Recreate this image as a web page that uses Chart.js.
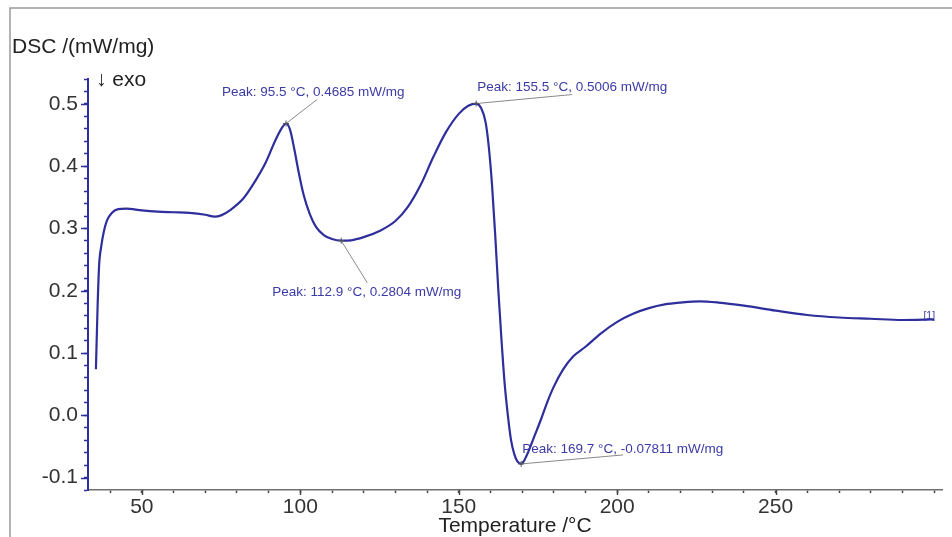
<!DOCTYPE html>
<html>
<head>
<meta charset="utf-8">
<script src="https://cdn.jsdelivr.net/npm/chart.js@4.4.1/dist/chart.umd.min.js"></script>
<style>
  html, body { margin: 0; padding: 0; background: #ffffff; }
  #wrap { width: 952px; height: 537px; position: relative; }
</style>
</head>
<body>
<div id="wrap"><canvas id="dsc" width="952" height="537"></canvas></div>
<script>
// DSC trace: temperature (°C) and heat flow (mW/mg)
const temperature = [
  35.5, 36.0, 36.5, 37.2, 38.0, 39.0, 40.5, 42.5, 45.0, 50, 55, 60, 65, 70, 73, 75, 78, 82, 86, 89,
  92, 94, 95.5, 96.8, 98, 99.5, 101, 103, 105, 107.5, 110, 112.9, 116, 120, 125, 130, 134, 138, 142, 146,
  150, 153, 155.5, 157, 158.5, 159.5, 160.5, 161.5, 162.5, 163.5, 164.5, 165.5, 166.5, 167.5, 168.5, 169.7, 170.5, 172, 174, 176,
  178, 180, 183, 186, 190, 195, 200, 205, 210, 215, 220, 226, 232, 240, 250, 260, 270, 280, 290, 300
];
const dscSignal = [
  0.074, 0.17, 0.24, 0.272, 0.295, 0.313, 0.325, 0.331, 0.332, 0.329, 0.327, 0.326, 0.325, 0.322, 0.319, 0.321, 0.33, 0.348, 0.378, 0.405,
  0.44, 0.46, 0.4685, 0.458, 0.43, 0.39, 0.355, 0.323, 0.302, 0.289, 0.283, 0.2804, 0.281, 0.286, 0.296, 0.312, 0.335, 0.37, 0.415, 0.455,
  0.484, 0.497, 0.5006, 0.494, 0.47, 0.43, 0.37, 0.29, 0.2, 0.12, 0.05, 0.0, -0.04, -0.062, -0.074, -0.07811, -0.074, -0.058, -0.032, -0.006,
  0.022, 0.046, 0.074, 0.094, 0.11, 0.132, 0.15, 0.163, 0.172, 0.178, 0.181, 0.183, 0.181, 0.176, 0.168, 0.161, 0.157, 0.155, 0.153, 0.154
];

// Evaluated peaks
const peakTemps  = [95.5, 155.5, 112.9, 169.7];
const peakValues = [0.4685, 0.5006, 0.2804, -0.07811];

// Axis ticks
const xTickValues = [50, 100, 150, 200, 250];
const yTickValues = [-0.1, 0.0, 0.1, 0.2, 0.3, 0.4, 0.5];
const xMinorStep = 10;
const yMinorStep = 0.02;

const FONT = "'Liberation Sans', Arial, Helvetica, sans-serif";
const CURVE = '#2e2e9c';
const NOTE = '#3b3ba6';

function stepRange(from, to, step) {
  const out = [];
  const n = Math.round((to - from) / step);
  for (let i = 0; i <= n; i++) out.push(Math.round((from + i * step) * 1e6) / 1e6);
  return out;
}
function isMajor(v, list) { return list.some(t => Math.abs(t - v) < 1e-6); }

// Label placement for each peak (offsets in px from the peak point)
const peakLayout = [
  { tx: -64, ty: -31, lx: 31,  ly: -24 },
  { tx: 1,   ty: -16, lx: 96,  ly: -9 },
  { tx: -69, ty: 52,  lx: 26,  ly: 42 },
  { tx: 1,   ty: -15, lx: 102, ly: -9 }
];

const decor = {
  id: 'dscDecor',
  beforeDraw(chart) {
    const ctx = chart.ctx;
    ctx.save();
    ctx.strokeStyle = '#9a9a9a';
    ctx.lineWidth = 1.5;
    ctx.beginPath();
    ctx.moveTo(10, 537);
    ctx.lineTo(10, 8);
    ctx.lineTo(952, 8);
    ctx.stroke();
    ctx.restore();
  },
  afterDraw(chart) {
    const ctx = chart.ctx;
    const xs = chart.scales.x, ys = chart.scales.y;
    ctx.save();

    // longer marks for the labelled ticks
    ctx.lineWidth = 1.5;
    ctx.strokeStyle = CURVE;
    yTickValues.forEach(v => {
      const py = Math.round(ys.getPixelForValue(v)) + 0.5;
      ctx.beginPath(); ctx.moveTo(xs.left - 7, py); ctx.lineTo(xs.left, py); ctx.stroke();
    });
    ctx.strokeStyle = '#444';
    xTickValues.forEach(v => {
      const px = Math.round(xs.getPixelForValue(v)) + 0.5;
      ctx.beginPath(); ctx.moveTo(px, ys.bottom); ctx.lineTo(px, ys.bottom + 5); ctx.stroke();
    });

    // axis title and exo direction
    ctx.fillStyle = '#222';
    ctx.textBaseline = 'middle';
    ctx.textAlign = 'left';
    ctx.font = `21px ${FONT}`;
    ctx.fillText('DSC /(mW/mg)', 12, 47);
    ctx.fillText('\u2193 exo', 96, 80);

    // peak annotations
    ctx.font = `13.5px ${FONT}`;
    peakTemps.forEach((t, i) => {
      const v = peakValues[i];
      const px = xs.getPixelForValue(t), py = ys.getPixelForValue(v);
      const L = peakLayout[i];
      ctx.strokeStyle = '#8a8a8a';
      ctx.lineWidth = 1;
      ctx.beginPath(); ctx.moveTo(px, py); ctx.lineTo(px + L.lx, py + L.ly); ctx.stroke();
      ctx.strokeStyle = '#555';
      ctx.beginPath();
      ctx.moveTo(px - 3, py); ctx.lineTo(px + 3, py);
      ctx.moveTo(px, py - 3); ctx.lineTo(px, py + 3);
      ctx.stroke();
      ctx.fillStyle = NOTE;
      const label = `Peak: ${t.toFixed(1)} \u00B0C, ${v.toPrecision(4)} mW/mg`;
      ctx.fillText(label, px + L.tx, py + L.ty);
    });

    // curve identifier at the end of the trace
    const last = temperature.length - 1;
    const ex = xs.getPixelForValue(temperature[last]);
    const ey = ys.getPixelForValue(dscSignal[last]);
    ctx.font = `10.5px ${FONT}`;
    ctx.textAlign = 'right';
    ctx.fillText('[1]', ex + 1, ey - 3);
    ctx.restore();
  }
};

const points = temperature.map((t, i) => ({ x: t, y: dscSignal[i] }));

new Chart(document.getElementById('dsc'), {
  type: 'line',
  data: {
    datasets: [{
      data: points,
      borderColor: CURVE,
      borderWidth: 2.2,
      pointRadius: 0,
      fill: false,
      cubicInterpolationMode: 'monotone'
    }]
  },
  options: {
    responsive: false,
    animation: false,
    events: [],
    layout: { padding: { top: 79, right: 10, bottom: 0, left: 10 } },
    plugins: { legend: { display: false }, tooltip: { enabled: false } },
    scales: {
      x: {
        type: 'linear',
        min: 33,
        max: 302.5,
        afterBuildTicks: s => { s.ticks = stepRange(40, 300, xMinorStep).map(v => ({ value: v })); },
        afterFit: s => { s.height = 47; },
        ticks: {
          autoSkip: false,
          maxRotation: 0,
          padding: 2,
          color: '#333',
          font: { family: FONT, size: 21 },
          callback: v => isMajor(v, xTickValues) ? String(Math.round(v)) : ''
        },
        grid: { drawOnChartArea: false, tickLength: 3, tickColor: '#444', tickWidth: 1.5 },
        border: { color: '#707070', width: 1.5 },
        title: {
          display: true,
          text: 'Temperature /\u00B0C',
          color: '#222',
          font: { family: FONT, size: 21 },
          padding: { top: 0, bottom: -2 }
        }
      },
      y: {
        min: -0.12,
        max: 0.54,
        afterBuildTicks: s => { s.ticks = stepRange(-0.12, 0.54, yMinorStep).map(v => ({ value: v })); },
        afterFit: s => { s.width = 78; },
        ticks: {
          autoSkip: false,
          padding: 6,
          color: '#333',
          font: { family: FONT, size: 21 },
          callback: v => isMajor(v, yTickValues) ? v.toFixed(1) : ''
        },
        grid: { drawOnChartArea: false, tickLength: 4, tickColor: CURVE, tickWidth: 1.5 },
        border: { color: CURVE, width: 2 }
      }
    }
  },
  plugins: [decor]
});
</script>
</body>
</html>
